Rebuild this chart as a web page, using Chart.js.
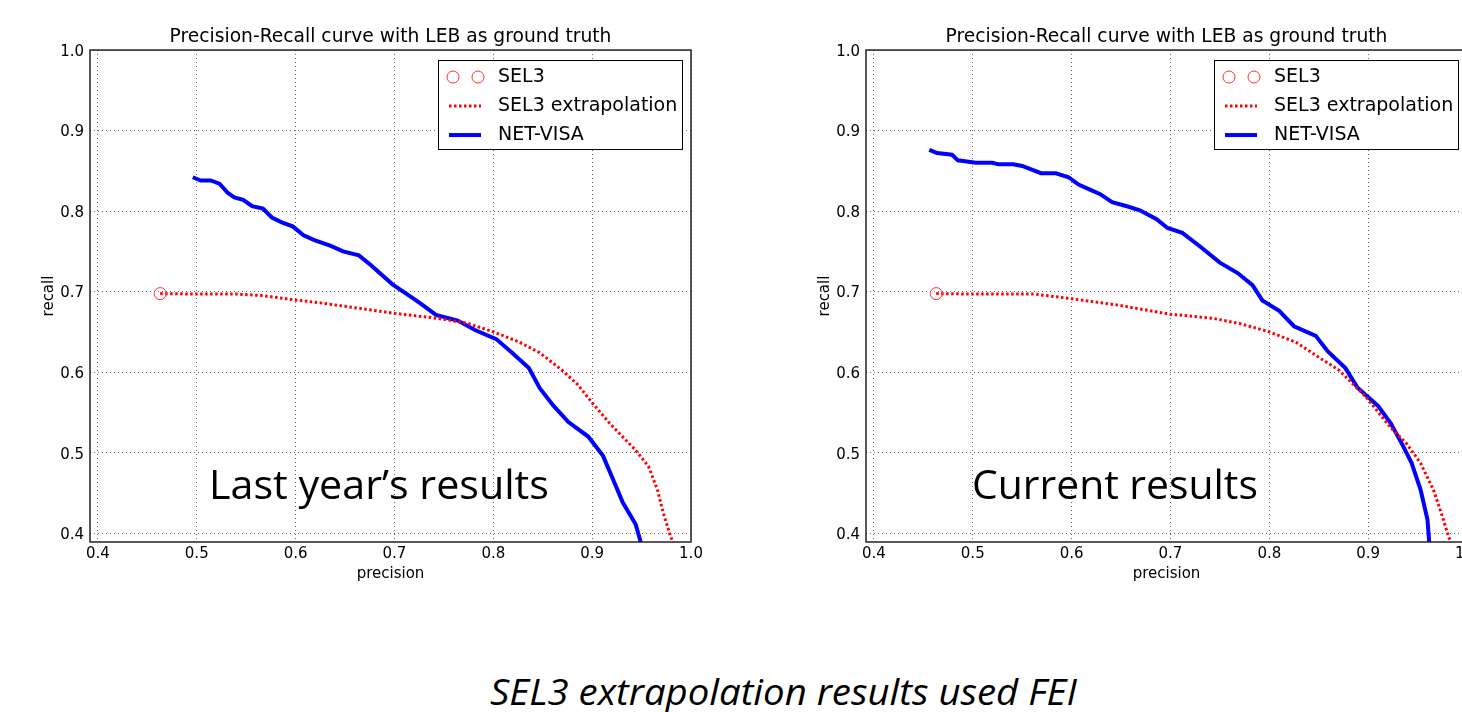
<!DOCTYPE html>
<html>
<head>
<meta charset="utf-8">
<script src="https://cdn.jsdelivr.net/npm/chart.js@4.4.0/dist/chart.umd.min.js"></script>
<style>
    html, body { margin: 0; padding: 0; background: #fff; }
    body { width: 1462px; height: 712px; overflow: hidden; position: relative; }
    .panel { position: absolute; top: 0; width: 776px; height: 600px; }
    #panel-last { left: 0; }
    #panel-current { left: 776px; }
    .note {
        position: absolute;
        font-family: 'Open Sans', sans-serif;
        font-size: 40px;
        line-height: 40px;
        color: #000;
        white-space: nowrap;
        transform-origin: left center;
    }
    #caption { font-size: 36px; line-height: 36px; font-style: italic; }
</style>
</head>
<body>
<div class="panel" id="panel-last"><canvas id="chart-last"></canvas></div>
<div class="panel" id="panel-current"><canvas id="chart-current"></canvas></div>
<div class="note" id="note-last" style="left:209px; top:464px;">Last year’s results</div>
<div class="note" id="note-current" style="left:972px; top:464px;">Current results</div>
<div class="note" id="caption" style="left:490px; top:674px;">SEL3 extrapolation results used FEI</div>

<script>
// axis ticks
const precisionTicks = [0.4, 0.5, 0.6, 0.7, 0.8, 0.9, 1.0];
const recallTicks = [0.4, 0.5, 0.6, 0.7, 0.8, 0.9, 1.0];

// SEL3 operating point (same on both panels)
const sel3Precision = [0.463];
const sel3Recall = [0.6975];

// last year's results
const lastExtrapPrecision = [0.463, 0.50, 0.54, 0.567, 0.597, 0.625, 0.654, 0.70, 0.742, 0.773, 0.80, 0.825, 0.847, 0.869, 0.885, 0.90, 0.918, 0.944, 0.957, 0.966, 0.972, 0.979, 0.982];
const lastExtrapRecall = [0.6975, 0.697, 0.697, 0.695, 0.690, 0.686, 0.681, 0.673, 0.667, 0.661, 0.650, 0.638, 0.624, 0.603, 0.585, 0.562, 0.536, 0.503, 0.483, 0.454, 0.425, 0.397, 0.388];
const lastNetVisaPrecision = [0.496, 0.504, 0.514, 0.523, 0.531, 0.538, 0.547, 0.556, 0.567, 0.576, 0.586, 0.597, 0.608, 0.619, 0.635, 0.648, 0.664, 0.676, 0.698, 0.716, 0.729, 0.742, 0.764, 0.782, 0.803, 0.819, 0.836, 0.847, 0.861, 0.876, 0.896, 0.911, 0.920, 0.931, 0.944, 0.950];
const lastNetVisaRecall = [0.842, 0.838, 0.838, 0.834, 0.823, 0.817, 0.814, 0.806, 0.803, 0.792, 0.786, 0.781, 0.770, 0.764, 0.757, 0.750, 0.745, 0.733, 0.709, 0.694, 0.683, 0.671, 0.664, 0.652, 0.641, 0.624, 0.605, 0.580, 0.558, 0.538, 0.520, 0.496, 0.470, 0.438, 0.411, 0.385];

// current results
const currentExtrapPrecision = [0.463, 0.50, 0.562, 0.601, 0.648, 0.699, 0.742, 0.771, 0.800, 0.827, 0.848, 0.870, 0.884, 0.898, 0.922, 0.939, 0.953, 0.966, 0.975, 0.981, 0.984];
const currentExtrapRecall = [0.6975, 0.697, 0.697, 0.691, 0.683, 0.672, 0.667, 0.660, 0.650, 0.637, 0.620, 0.603, 0.586, 0.569, 0.532, 0.511, 0.487, 0.454, 0.421, 0.397, 0.388];
const currentNetVisaPrecision = [0.456, 0.464, 0.479, 0.485, 0.503, 0.520, 0.526, 0.541, 0.550, 0.569, 0.584, 0.597, 0.607, 0.618, 0.629, 0.641, 0.656, 0.669, 0.686, 0.697, 0.712, 0.729, 0.750, 0.768, 0.783, 0.793, 0.810, 0.825, 0.847, 0.859, 0.877, 0.889, 0.910, 0.923, 0.935, 0.944, 0.953, 0.960, 0.962];
const currentNetVisaRecall = [0.876, 0.872, 0.870, 0.863, 0.860, 0.860, 0.858, 0.858, 0.856, 0.847, 0.847, 0.842, 0.833, 0.827, 0.821, 0.811, 0.806, 0.801, 0.790, 0.779, 0.773, 0.757, 0.736, 0.723, 0.708, 0.689, 0.676, 0.657, 0.645, 0.626, 0.605, 0.581, 0.558, 0.536, 0.509, 0.487, 0.454, 0.417, 0.385];

Chart.defaults.font.family = "'DejaVu Sans', sans-serif";
Chart.defaults.color = '#000';

function toPoints(xs, ys) {
    return xs.map((x, i) => ({x: x, y: ys[i]}));
}

// matplotlib style boxed legend in the upper right of the plot area
const boxedLegend = {
    id: 'boxedLegend',
    afterDatasetsDraw(chart) {
        const ctx = chart.ctx;
        const area = chart.chartArea;
        const w = 244, h = 89;
        const left = area.right - 9 - w;
        const top = area.top + 10;
        ctx.save();
        ctx.fillStyle = '#fff';
        ctx.fillRect(left, top, w, h);
        ctx.strokeStyle = '#000';
        ctx.lineWidth = 1;
        ctx.strokeRect(left + 0.5, top + 0.5, w, h);
        chart.data.datasets.forEach((ds, i) => {
            const y = top + 17 + i * 29;
            ctx.strokeStyle = ds.borderColor;
            if (i === 0) {
                ctx.lineWidth = 1;
                [left + 15, left + 40].forEach(cx => {
                    ctx.beginPath();
                    ctx.arc(cx, y, ds.pointRadius, 0, Math.PI * 2);
                    ctx.stroke();
                });
            } else {
                ctx.lineWidth = ds.borderWidth;
                ctx.setLineDash(ds.borderDash || []);
                ctx.beginPath();
                ctx.moveTo(left + 11, y);
                ctx.lineTo(left + 43, y);
                ctx.stroke();
                ctx.setLineDash([]);
            }
            ctx.fillStyle = '#000';
            ctx.font = "19px 'DejaVu Sans'";
            ctx.textBaseline = 'middle';
            ctx.fillText(ds.label, left + 60, y);
        });
        ctx.restore();
    }
};

// frame on all four sides
const frame = {
    id: 'frame',
    afterDraw(chart) {
        const a = chart.chartArea;
        const ctx = chart.ctx;
        ctx.save();
        ctx.strokeStyle = '#222';
        ctx.lineWidth = 1.5;
        ctx.strokeRect(a.left, a.top, a.right - a.left, a.bottom - a.top);
        ctx.restore();
    }
};

function makePanel(canvasId, extrapPrecision, extrapRecall, netPrecision, netRecall) {
    return new Chart(document.getElementById(canvasId), {
        type: 'scatter',
        data: {
            datasets: [{
                label: 'SEL3',
                data: toPoints(sel3Precision, sel3Recall),
                borderColor: '#ff3030',
                backgroundColor: 'transparent',
                pointRadius: 6,
                borderWidth: 1,
                showLine: false
            }, {
                label: 'SEL3 extrapolation',
                data: toPoints(extrapPrecision, extrapRecall),
                borderColor: '#ff0000',
                borderWidth: 3,
                borderDash: [2.5, 2.5],
                pointRadius: 0,
                showLine: true,
                clip: 0
            }, {
                label: 'NET-VISA',
                data: toPoints(netPrecision, netRecall),
                borderColor: '#0000ff',
                borderWidth: 4,
                pointRadius: 0,
                showLine: true,
                clip: 0
            }]
        },
        options: {
            animation: false,
            events: [],
            maintainAspectRatio: false,
            layout: {
                padding: {top: 0, right: 85, bottom: 0, left: 0}
            },
            plugins: {
                legend: {display: false},
                tooltip: {enabled: false},
                title: {
                    display: true,
                    fullSize: false,
                    text: 'Precision-Recall curve with LEB as ground truth',
                    font: {size: 18.7, weight: 'normal'},
                    color: '#000',
                    padding: {top: 26, bottom: 1.6}
                }
            },
            scales: {
                x: {
                    type: 'linear',
                    min: 0.392,
                    max: 1.0,
                    afterBuildTicks: scale => { scale.ticks = precisionTicks.map(v => ({value: v})); },
                    afterFit: scale => { scale.height = 58; scale.paddingLeft = 0; scale.paddingRight = 0; },
                    grid: {color: 'rgba(0,0,0,0.6)', lineWidth: 1, drawTicks: false},
                    border: {display: false, dash: [1, 3]},
                    ticks: {font: {size: 15}, padding: 3, maxRotation: 0, callback: v => v.toFixed(1)},
                    title: {display: true, text: 'precision', font: {size: 15}, padding: {top: 0, bottom: 17}}
                },
                y: {
                    type: 'linear',
                    min: 0.389,
                    max: 1.0,
                    afterBuildTicks: scale => { scale.ticks = recallTicks.map(v => ({value: v})); },
                    afterFit: scale => { scale.width = 90; scale.paddingTop = 0; scale.paddingBottom = 0; },
                    grid: {color: 'rgba(0,0,0,0.6)', lineWidth: 1, drawTicks: false},
                    border: {display: false, dash: [1, 3]},
                    ticks: {font: {size: 15}, padding: 6, labelOffset: 2, callback: v => v.toFixed(1)},
                    title: {display: true, text: 'recall', font: {size: 15}, padding: {top: 40, bottom: 0}}
                }
            }
        },
        plugins: [boxedLegend, frame]
    });
}

function fitWidth(id, width) {
    const el = document.getElementById(id);
    el.style.transform = 'scaleX(' + (width / el.offsetWidth) + ')';
}

document.addEventListener('DOMContentLoaded', (event) => {
    makePanel('chart-last', lastExtrapPrecision, lastExtrapRecall, lastNetVisaPrecision, lastNetVisaRecall);
    makePanel('chart-current', currentExtrapPrecision, currentExtrapRecall, currentNetVisaPrecision, currentNetVisaRecall);
    document.fonts.ready.then(() => {
        fitWidth('note-last', 340);
        fitWidth('note-current', 286);
        fitWidth('caption', 587);
    });
});
</script>
</body>
</html>
